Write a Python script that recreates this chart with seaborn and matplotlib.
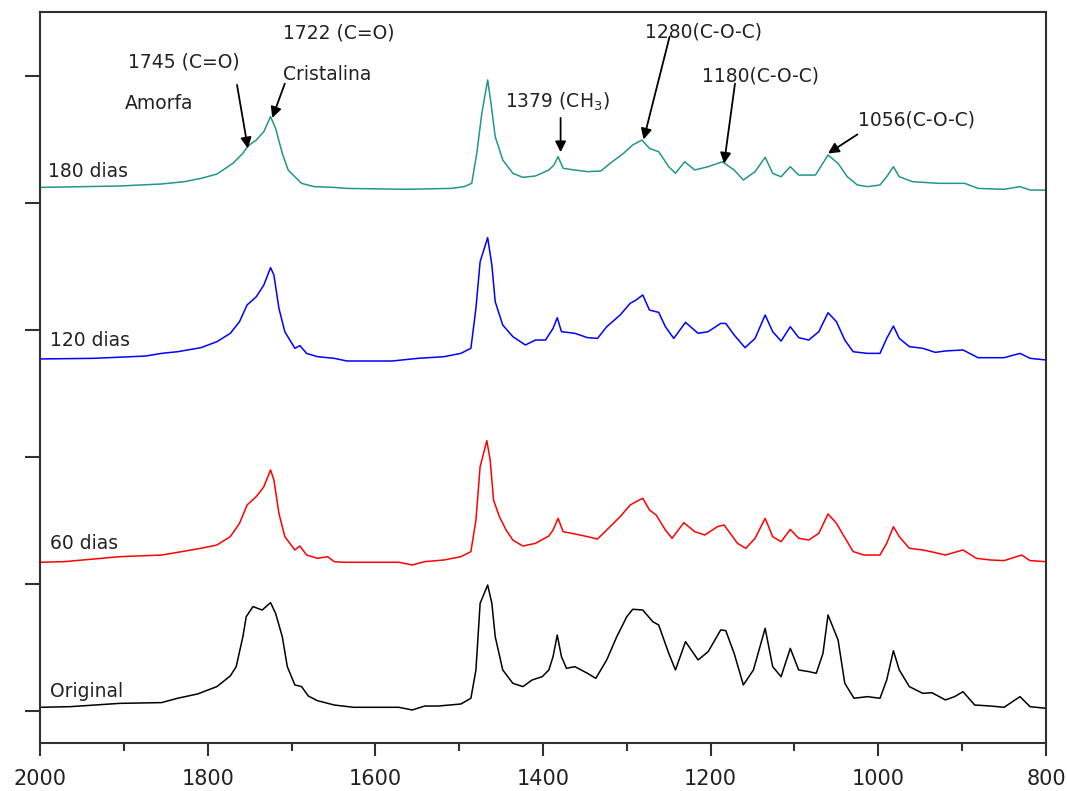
import numpy as np
import pandas as pd
import seaborn as sns
import matplotlib
matplotlib.use("Agg")
import matplotlib.pyplot as plt
from matplotlib.ticker import MultipleLocator, NullFormatter

# ---------------- data (wavenumber cm-1, stacked absorbance) ----------------
wn_original = [2000, 1964, 1905, 1855, 1836, 1812, 1789, 1773, 1766, 1758, 1754, 1746, 1735, 1725, 1719,
               1711, 1705, 1696, 1688, 1680, 1669, 1649, 1626, 1572, 1556, 1541, 1525, 1498, 1486, 1480,
               1475, 1466, 1461, 1457, 1448, 1436, 1424, 1413, 1401, 1393, 1388, 1383, 1378, 1372, 1362,
               1347, 1337, 1324, 1312, 1300, 1293, 1281, 1269, 1262, 1250, 1242, 1230, 1215, 1203, 1188,
               1182, 1172, 1161, 1149, 1135, 1126, 1116, 1105, 1095, 1083, 1074, 1066, 1060, 1048, 1040,
               1029, 1013, 998, 990, 982, 975, 963, 947, 936, 920, 909, 899, 885, 866, 850, 831, 819, 800]
ab_original = [0.029, 0.034, 0.060, 0.066, 0.100, 0.134, 0.192, 0.276, 0.349, 0.585, 0.743, 0.822, 0.795,
               0.853, 0.769, 0.585, 0.349, 0.205, 0.192, 0.118, 0.081, 0.047, 0.029, 0.029, 0.008, 0.039,
               0.039, 0.055, 0.100, 0.323, 0.848, 0.992, 0.848, 0.585, 0.323, 0.218, 0.192, 0.244, 0.270,
               0.323, 0.428, 0.598, 0.428, 0.336, 0.349, 0.297, 0.257, 0.402, 0.585, 0.743, 0.801, 0.795,
               0.703, 0.677, 0.454, 0.323, 0.546, 0.402, 0.467, 0.638, 0.633, 0.454, 0.205, 0.323, 0.651,
               0.349, 0.270, 0.493, 0.323, 0.310, 0.297, 0.454, 0.756, 0.559, 0.218, 0.100, 0.113, 0.100,
               0.244, 0.475, 0.323, 0.192, 0.139, 0.144, 0.087, 0.113, 0.152, 0.047, 0.039, 0.029, 0.113,
               0.034, 0.021]

wn_60 = [2000, 1971, 1905, 1855, 1836, 1808, 1789, 1773, 1762, 1753, 1742, 1733, 1725, 1721, 1715, 1708,
         1696, 1690, 1682, 1669, 1657, 1649, 1638, 1572, 1556, 1541, 1518, 1498, 1486, 1480, 1475, 1467,
         1463, 1459, 1452, 1444, 1436, 1424, 1409, 1393, 1388, 1382, 1376, 1362, 1347, 1335, 1324, 1308,
         1296, 1289, 1281, 1273, 1265, 1254, 1246, 1232, 1219, 1207, 1192, 1184, 1168, 1158, 1147, 1135,
         1126, 1116, 1105, 1095, 1083, 1071, 1060, 1050, 1043, 1030, 1017, 998, 990, 982, 975, 963, 947,
         932, 920, 899, 883, 866, 850, 829, 819, 800]
ab_60 = [1.171, 1.176, 1.215, 1.228, 1.249, 1.281, 1.307, 1.373, 1.478, 1.622, 1.688, 1.766, 1.898, 1.819,
         1.556, 1.373, 1.268, 1.299, 1.228, 1.202, 1.215, 1.176, 1.171, 1.171, 1.150, 1.176, 1.189, 1.215,
         1.255, 1.504, 1.924, 2.129, 1.976, 1.661, 1.530, 1.425, 1.346, 1.299, 1.320, 1.378, 1.425, 1.517,
         1.412, 1.394, 1.373, 1.354, 1.425, 1.530, 1.622, 1.648, 1.675, 1.583, 1.543, 1.425, 1.360, 1.483,
         1.412, 1.386, 1.451, 1.465, 1.320, 1.281, 1.360, 1.517, 1.373, 1.333, 1.430, 1.360, 1.346, 1.399,
         1.551, 1.478, 1.399, 1.255, 1.228, 1.228, 1.320, 1.451, 1.373, 1.281, 1.268, 1.247, 1.228, 1.268,
         1.202, 1.189, 1.184, 1.228, 1.184, 1.176]

wn_120 = [2000, 1936, 1874, 1855, 1836, 1808, 1789, 1773, 1762, 1753, 1742, 1733, 1725, 1721, 1715, 1708,
          1696, 1690, 1682, 1669, 1649, 1634, 1580, 1549, 1518, 1498, 1486, 1480, 1475, 1466, 1461, 1457,
          1448, 1436, 1421, 1409, 1397, 1388, 1383, 1378, 1362, 1347, 1335, 1324, 1308, 1296, 1289, 1281,
          1273, 1262, 1254, 1244, 1230, 1215, 1203, 1188, 1182, 1172, 1159, 1147, 1135, 1126, 1116, 1105,
          1095, 1083, 1071, 1060, 1050, 1040, 1030, 1013, 998, 990, 982, 975, 963, 947, 932, 920, 899, 881,
          850, 831, 819, 800]
ab_120 = [2.772, 2.777, 2.795, 2.816, 2.829, 2.861, 2.908, 2.974, 3.066, 3.197, 3.262, 3.354, 3.491, 3.433,
          3.171, 2.987, 2.856, 2.877, 2.816, 2.790, 2.777, 2.756, 2.756, 2.777, 2.790, 2.816, 2.856, 3.171,
          3.538, 3.727, 3.512, 3.223, 3.039, 2.948, 2.882, 2.921, 2.921, 3.013, 3.097, 2.987, 2.974, 2.940,
          2.934, 3.026, 3.118, 3.210, 3.236, 3.276, 3.157, 3.139, 3.026, 2.934, 3.060, 2.974, 2.987, 3.052,
          3.052, 2.961, 2.861, 2.934, 3.118, 2.987, 2.913, 3.026, 2.940, 2.921, 2.987, 3.136, 3.066, 2.921,
          2.829, 2.816, 2.816, 2.934, 3.031, 2.934, 2.869, 2.856, 2.824, 2.835, 2.843, 2.782, 2.782, 2.816,
          2.777, 2.764]

wn_180 = [2000, 1905, 1855, 1828, 1808, 1789, 1770, 1758, 1752, 1742, 1733, 1725, 1719, 1711, 1704, 1696,
          1688, 1673, 1649, 1634, 1564, 1510, 1494, 1485, 1479, 1473, 1466, 1462, 1457, 1448, 1436, 1424,
          1409, 1393, 1387, 1382, 1376, 1362, 1347, 1331, 1320, 1304, 1293, 1282, 1273, 1262, 1250, 1242,
          1231, 1219, 1203, 1186, 1172, 1161, 1147, 1135, 1126, 1116, 1105, 1095, 1075, 1060, 1048, 1037,
          1025, 1013, 998, 990, 982, 975, 959, 928, 897, 881, 850, 831, 819, 800]
ab_180 = [4.123, 4.134, 4.150, 4.168, 4.194, 4.228, 4.312, 4.391, 4.449, 4.496, 4.562, 4.680, 4.588, 4.391,
          4.260, 4.207, 4.155, 4.129, 4.123, 4.115, 4.108, 4.115, 4.129, 4.155, 4.391, 4.706, 4.969, 4.785,
          4.522, 4.339, 4.234, 4.202, 4.213, 4.260, 4.299, 4.365, 4.273, 4.260, 4.247, 4.252, 4.312, 4.391,
          4.457, 4.496, 4.430, 4.404, 4.286, 4.234, 4.325, 4.260, 4.286, 4.325, 4.260, 4.181, 4.247, 4.360,
          4.234, 4.207, 4.286, 4.220, 4.220, 4.378, 4.312, 4.207, 4.142, 4.129, 4.142, 4.207, 4.286, 4.207,
          4.168, 4.155, 4.155, 4.115, 4.108, 4.129, 4.102, 4.102]

series_names = ["Original", "60 dias", "120 dias", "180 dias"]
series_colors = ["#000000", "#ff0000", "#0000ff", "#22968c"]
label_x = [1988, 1988, 1988, 1990]
label_y = [0.15, 1.32, 2.92, 4.25]

# annotations: text, text position, arrow start, arrow tip
ann_texts = ["1745 (C=O)", "Amorfa", "1722 (C=O)", "Cristalina", "1379 (CH$_3$)",
             "1280(C-O-C)", "1180(C-O-C)", "1056(C-O-C)"]
ann_text_x = [1895, 1899, 1710, 1710, 1445, 1278, 1210, 1024]
ann_text_y = [5.11, 4.78, 5.34, 5.01, 4.80, 5.35, 5.00, 4.65]
arrow_start = [(1765, 4.93), (1708, 4.94), (1379, 4.67), (1249, 5.31), (1171, 4.94), (1025, 4.54)]
arrow_tip = [(1752, 4.43), (1723, 4.67), (1379, 4.40), (1280, 4.50), (1184, 4.31), (1060, 4.39)]

x_ticks = [2000, 1800, 1600, 1400, 1200, 1000, 800]

# ---------------- build long table ----------------
frames = []
for name, wn, ab in zip(series_names,
                        [wn_original, wn_60, wn_120, wn_180],
                        [ab_original, ab_60, ab_120, ab_180]):
    frames.append(pd.DataFrame({"wn": wn, "abs": ab, "serie": name}))
df = pd.concat(frames, ignore_index=True)

# ---------------- style ----------------
sns.set_style("ticks")
plt.rcParams["font.family"] = ["DejaVu Sans"]
plt.rcParams["mathtext.fontset"] = "dejavusans"

fig = plt.figure(figsize=(10.67, 7.91), dpi=100)
ax = fig.add_axes([0.0375, 0.0607, 0.9428, 0.9241])

sns.lineplot(data=df, x="wn", y="abs", hue="serie", hue_order=series_names,
             palette=dict(zip(series_names, series_colors)), estimator=None,
             sort=True, linewidth=1.1, legend=False, ax=ax)

ax.set_xlim(2000, 800)
ax.set_ylim(-0.252, 5.504)
ax.set_xticks(x_ticks)
ax.xaxis.set_minor_locator(MultipleLocator(100))
ax.set_yticks([0, 1, 2, 3, 4, 5])
ax.yaxis.set_major_formatter(NullFormatter())
ax.set_xlabel("")
ax.set_ylabel("")

for sp in ax.spines.values():
    sp.set_linewidth(1.5)
    sp.set_color("#303030")
ax.tick_params(axis="x", which="major", direction="out", length=9.5, width=1.5,
               labelsize=15, pad=9, colors="#303030", labelcolor="#222222")
ax.tick_params(axis="x", which="minor", direction="out", length=5.5, width=1.5, colors="#303030")
ax.tick_params(axis="y", which="major", direction="out", length=10.5, width=1.5, colors="#303030")
ax.tick_params(top=False, right=False)

for name, col, lx, ly in zip(series_names, series_colors, label_x, label_y):
    ax.text(lx, ly, name, fontsize=13.5, color="#222222", ha="left", va="center")

for t, tx, ty in zip(ann_texts, ann_text_x, ann_text_y):
    ax.text(tx, ty, t, fontsize=13.5, color="#222222", ha="left", va="center")

for s, e in zip(arrow_start, arrow_tip):
    ax.annotate("", xy=e, xytext=s,
                arrowprops=dict(arrowstyle="-|>", color="black", lw=1.3,
                                mutation_scale=16, shrinkA=0, shrinkB=0))

fig.savefig("out.png", dpi=100)
